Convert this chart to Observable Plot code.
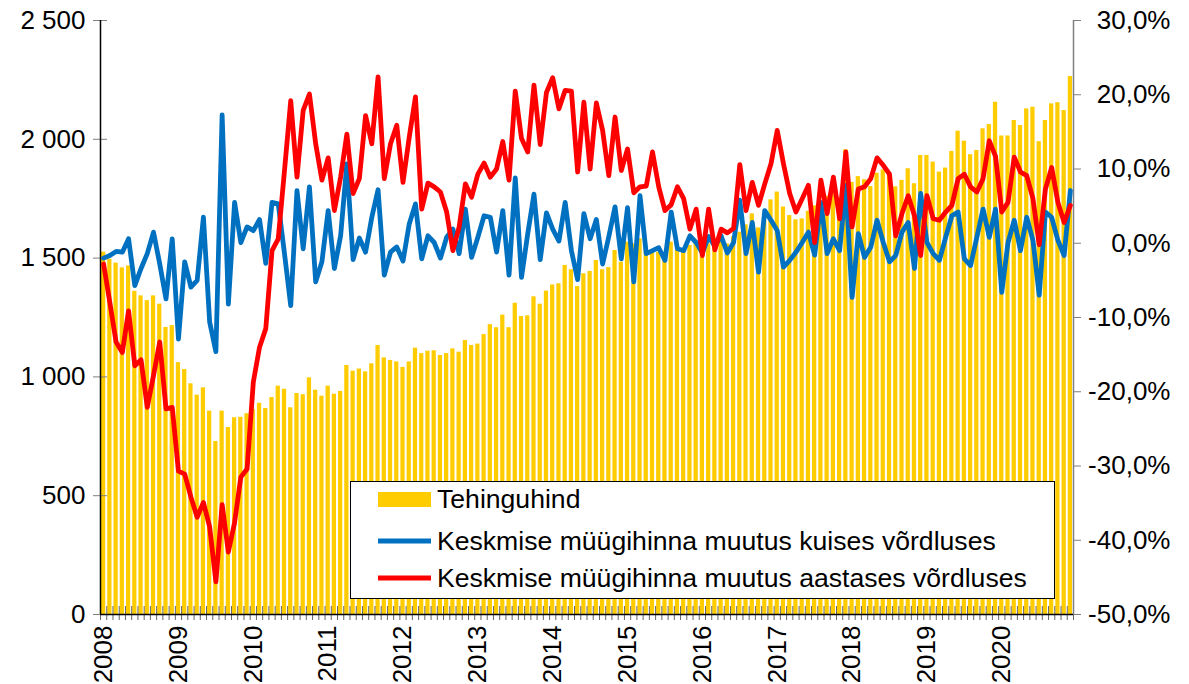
<!DOCTYPE html>
<html>
<head>
<meta charset="utf-8">
<script src="https://cdn.jsdelivr.net/npm/d3@7"></script>
<script src="https://cdn.jsdelivr.net/npm/@observablehq/plot@0.6"></script>
<style>
  html, body { margin: 0; padding: 0; background: #fff; }
  svg { display: block; }
</style>
</head>
<body>
<div id="chart"></div>
<script>
// ---- Data (Jan 2008 – Dec 2020, monthly) ----
const years = [2008, 2009, 2010, 2011, 2012, 2013, 2014, 2015, 2016, 2017, 2018, 2019, 2020];

// Tehinguhind (left axis)
const tehinguhind = [
  1525, 1495, 1479, 1459, 1467, 1360, 1341, 1321, 1341, 1306, 1208, 1216,
  1060, 1031, 971, 923, 954, 856, 728, 856, 787, 828, 830, 845,
  863, 889, 867, 913, 961, 948, 870, 930, 925, 996, 944, 919,
  961, 927, 939, 1048, 1024, 1033, 1021, 1055, 1132, 1080, 1069, 1063,
  1040, 1063, 1121, 1098, 1108, 1110, 1090, 1098, 1118, 1104, 1153, 1132,
  1138, 1178, 1220, 1207, 1260, 1207, 1310, 1254, 1257, 1337, 1306, 1361,
  1387, 1392, 1469, 1451, 1380, 1434, 1444, 1490, 1451, 1460, 1532, 1483,
  1567, 1560, 1581, 1545, 1525, 1525, 1490, 1567, 1532, 1532, 1553, 1567,
  1560, 1560, 1560, 1581, 1560, 1590, 1609, 1640, 1686, 1627, 1660, 1745,
  1778, 1715, 1679, 1661, 1665, 1697, 1720, 1740, 1760, 1770, 1750, 1956,
  1819, 1843, 1830, 1801, 1857, 1871, 1860, 1800, 1827, 1876, 1813, 1932,
  1932, 1904, 1862, 1879, 1949, 2034, 1992, 1935, 1953, 2044, 2062, 2156,
  2014, 2014, 2079, 2058, 2128, 2135, 1990, 2079, 2149, 2154, 2121, 2264
];

// Keskmise müügihinna muutus kuises võrdluses (%; right axis)
const kuine = [
  -2.0, -1.65, -1.1, -1.2, 0.6, -5.7, -3.4, -1.4, 1.5, -2.8, -7.5, 0.6,
  -12.9, -2.5, -5.9, -5.0, 3.5, -10.6, -14.6, 17.3, -8.2, 5.5, 0.1, 2.2,
  1.7, 3.2, -2.7, 5.5, 5.3, -1.4, -8.4, 7.1, -0.75, 7.6, -5.2, -2.5,
  4.4, -3.4, 1.0, 10.7, -2.2, 0.7, -1.2, 3.5, 7.2, -4.3, -1.2, -0.5,
  -2.4, 2.6, 5.3, -2.1, 1.0, 0.1, -2.0, 0.8, 1.9, -1.4, 4.6, -1.9,
  0.8, 3.7, 3.5, -1.2, 4.4, -4.3, 8.8, -4.6, 1.3, 6.6, -2.2, 4.1,
  1.9, 0.3, 5.5, -1.0, -4.9, 4.0, 0.6, 3.2, -2.8, 0.9, 4.9, -2.1,
  4.8, -5.2, 6.4, -1.4, -1.0, -0.6, -2.3, 4.2, -0.75, -1.0, 1.0, 0.1,
  -1.3, 0.9, -0.4, 1.0, -1.3, 0.1, 5.8, -1.4, 2.8, -3.9, 4.4, 3.1,
  1.7, -3.2, -2.3, -1.2, 0.1, 1.5, -1.6, 5.5, -1.4, 0.6, -1.0, 7.8,
  -7.3, 1.3, -1.9, -0.5, 3.1, 0.1, -2.5, -1.65, 1.5, 2.8, -3.4, 6.7,
  0.1, -1.4, -2.3, 0.8, 3.7, 4.2, -2.1, -3.0, 0.8, 4.6, 0.8, 4.6,
  -6.6, 0.1, 3.1, -1.0, 3.5, 0.4, -7.0, 4.2, 3.5, 0.4, -1.65, 7.1
];

// Keskmise müügihinna muutus aastases võrdluses (%; right axis)
const aastane = [
  -2.8, -8.0, -13.3, -14.7, -9.1, -16.5, -15.7, -22.1, -17.8, -13.3, -22.3, -22.1,
  -30.7, -31.1, -34.2, -36.9, -34.9, -38.2, -45.6, -35.2, -41.6, -37.6, -31.5, -30.4,
  -18.7, -14.0, -11.5, -1.0, 0.6, 9.8, 19.2, 8.9, 17.9, 20.1, 13.4, 8.5,
  11.5, 4.4, 8.9, 14.7, 6.7, 8.7, 17.2, 13.4, 22.4, 8.7, 13.4, 15.9,
  8.2, 14.3, 19.7, 4.6, 8.1, 7.6, 6.9, 4.2, -1.0, 2.2, 8.0, 6.2,
  9.3, 10.8, 8.9, 10.0, 13.7, 8.5, 20.5, 14.1, 12.3, 21.3, 13.3, 20.3,
  22.3, 18.1, 20.6, 20.5, 9.6, 19.0, 10.0, 18.9, 15.2, 9.1, 17.0, 9.8,
  12.7, 6.8, 7.6, 7.7, 12.3, 7.6, 4.4, 5.2, 7.6, 6.0, 1.9, 4.6,
  -1.65, 4.6, -0.9, 1.9, 1.4, 2.0, 10.6, 4.4, 8.2, 5.1, 8.0, 10.7,
  15.2, 10.7, 6.7, 4.2, 6.0, 7.8, 0.1, 8.5, 4.0, 8.9, 3.3, 12.3,
  2.2, 7.3, 7.6, 8.7, 11.5, 10.5, 9.3, 1.0, 4.0, 6.4, 3.7, -1.65,
  6.4, 3.3, 3.1, 4.2, 5.1, 8.7, 9.3, 7.6, 6.9, 8.7, 13.8, 11.7,
  4.2, 5.5, 11.6, 9.6, 9.1, 6.0, -0.2, 7.3, 10.2, 5.5, 2.8, 5.1
];

const leftTicks = [0, 500, 1000, 1500, 2000, 2500];
const rightTicks = [-50, -40, -30, -20, -10, 0, 10, 20, 30];
const seriesNames = [
  "Tehinguhind",
  "Keskmise müügihinna muutus kuises võrdluses",
  "Keskmise müügihinna muutus aastases võrdluses"
];
const colors = ["#FFCC00", "#0070C0", "#FF0000"];

// ---- Build table ----
const rows = tehinguhind.map((v, i) => ({ i, bar: v, kuine: kuine[i], aastane: aastane[i] }));
const n = rows.length;

// Right-axis (%) values mapped onto left-axis units: -50% -> 0, 30% -> 2500
const rMin = rightTicks[0], rMax = rightTicks[rightTicks.length - 1];
const lMax = leftTicks[leftTicks.length - 1];
const toLeft = p => (p - rMin) * lMax / (rMax - rMin);
const fromLeft = v => v * (rMax - rMin) / lMax + rMin;

const fmtLeft = d => d3.format(",")(d).replace(/,/g, " ");
const fmtPct = d => { const p = Math.round(fromLeft(d)); return p.toFixed(1).replace(".", ",") + "%"; };

const FONT = "'Liberation Sans', Arial, sans-serif";
const W = 1189, H = 684;

const chart = Plot.plot({
  width: W,
  height: H,
  marginLeft: 100,
  marginRight: 116,
  marginTop: 20,
  marginBottom: 70,
  style: { fontFamily: FONT, fontSize: "26px", color: "#000", background: "#fff", overflow: "visible" },
  x: { domain: [-0.5, n - 0.5], label: null },
  y: { domain: [0, lMax], label: null },
  marks: [
    Plot.rectY(rows, { x1: d => d.i - 0.34, x2: d => d.i + 0.34, y1: 0, y2: "bar", fill: colors[0] }),
    // monthly ticks crossing bottom axis
    Plot.axisX(d3.range(n + 1).map(k => k - 0.5), { tickSize: 14, dy: -8, stroke: "#666", fill: "none", label: null }),
    // year labels
    Plot.axisX(years.map((y, k) => k * 12), {
      tickSize: 0, tickRotate: -90, tickPadding: 11,
      tickFormat: d => String(years[0] + d / 12), label: null
    }),
    // left axis
    Plot.axisY(leftTicks, { tickSize: 14, dx: 7, stroke: "#808080", fill: "none", label: null }),
    Plot.axisY(leftTicks, { tickSize: 0, tickPadding: 15, tickFormat: fmtLeft, label: null }),
    // right axis
    Plot.axisY(rightTicks.map(toLeft), {
      anchor: "right", tickSize: 7, stroke: "#808080",
      tickPadding: 90, textAnchor: "end", tickFormat: fmtPct, label: null
    }),
    Plot.ruleX([n - 0.5], { stroke: "#808080", strokeWidth: 1.5 }),
    Plot.ruleX([-0.5], { stroke: "#000", strokeWidth: 1.5 }),
    Plot.ruleY([0], { stroke: "#000", strokeWidth: 1.5 }),
    Plot.line(rows, { x: "i", y: d => toLeft(d.kuine), stroke: colors[1], strokeWidth: 4.8, strokeLinejoin: "round", strokeLinecap: "round" }),
    Plot.line(rows, { x: "i", y: d => toLeft(d.aastane), stroke: colors[2], strokeWidth: 4.8, strokeLinejoin: "round", strokeLinecap: "round" })
  ]
});

document.getElementById("chart").appendChild(chart);

// ---- Legend (boxed, inside plot area) ----
const svg = d3.select(chart);
const lg = svg.append("g").attr("font-family", FONT).attr("font-size", 26.6)
  .attr("fill", "#000").attr("text-anchor", "start");
lg.append("rect").attr("x", 350.5).attr("y", 481.5).attr("width", 704).attr("height", 117)
  .attr("fill", "#fff").attr("stroke", "#000").attr("stroke-width", 1);
const rowY = [499, 541, 578];
seriesNames.forEach((name, k) => {
  const y = rowY[k];
  if (k === 0) {
    lg.append("rect").attr("x", 378).attr("y", y - 7).attr("width", 53).attr("height", 15).attr("fill", colors[0]);
  } else {
    lg.append("line").attr("x1", 378).attr("x2", 431).attr("y1", y).attr("y2", y)
      .attr("stroke", colors[k]).attr("stroke-width", 4.8);
  }
  lg.append("text").attr("x", 437).attr("y", y).attr("dy", "0.35em").attr("text-anchor", "start").text(name);
});
</script>
</body>
</html>
